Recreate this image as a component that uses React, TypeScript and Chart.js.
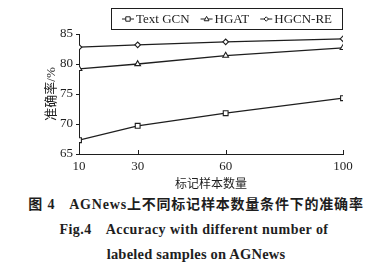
import React, { useEffect, useRef } from 'react';
import { Chart, registerables } from 'chart.js';

Chart.register(...registerables);

const sampleCounts = [10, 30, 60, 100];
const textGcn = [67.3, 69.7, 71.8, 74.3];
const hgat = [79.2, 80.0, 81.4, 82.7];
const hgcnRe = [82.8, 83.2, 83.7, 84.2];
const seriesNames = ['Text GCN', 'HGAT', 'HGCN-RE'];
const yTickValues = [65, 70, 75, 80, 85];
const yTitle = '准确率/%';
const xTitle = '标记样本数量';
const captionCn = ['图 4', 'AGNews上不同标记样本数量条件下的准确率'];
const captionEn1 = ['Fig.4', 'Accuracy with different number of'];
const captionEn2 = 'labeled samples on AGNews';

const SERIF = '"Liberation Serif", "Times New Roman", "Noto Sans CJK SC", serif';
const INK = '#1e1e1e';

function drawMarker(ctx: CanvasRenderingContext2D, style: string, x: number, y: number, r: number) {
  ctx.beginPath();
  if (style === 'rect') {
    ctx.rect(x - r, y - r, 2 * r, 2 * r);
  } else if (style === 'triangle') {
    ctx.moveTo(x, y - r * 1.2);
    ctx.lineTo(x + r * 1.1, y + r * 0.8);
    ctx.lineTo(x - r * 1.1, y + r * 0.8);
    ctx.closePath();
  } else {
    ctx.moveTo(x, y - r);
    ctx.lineTo(x + r, y);
    ctx.lineTo(x, y + r);
    ctx.lineTo(x - r, y);
    ctx.closePath();
  }
  ctx.fillStyle = '#fff';
  ctx.fill();
  ctx.stroke();
}

const extrasPlugin = {
  id: 'extras',
  afterDraw(chart: any) {
    const ctx: CanvasRenderingContext2D = chart.ctx;
    const area = chart.chartArea;
    const xs = chart.scales.x;
    ctx.save();
    // inward x ticks
    ctx.strokeStyle = INK;
    ctx.lineWidth = 1;
    for (const v of sampleCounts) {
      const px = Math.round(xs.getPixelForValue(v)) + 0.5;
      ctx.beginPath();
      ctx.moveTo(px, area.bottom);
      ctx.lineTo(px, area.bottom - 4);
      ctx.stroke();
    }
    // legend
    ctx.font = '13px ' + SERIF;
    const symW = 12;
    const symGap = 2;
    const itemGap = 11;
    const items = chart.data.datasets.map((d: any) => ({
      label: d.label,
      style: d.pointStyle,
      w: symW + symGap + ctx.measureText(d.label).width,
    }));
    const total = items.reduce((s: number, it: any) => s + it.w, 0) + itemGap * (items.length - 1);
    const boxRight = area.right;
    const boxLeft = area.left + 32;
    const boxTop = 8;
    const boxBottom = 29;
    ctx.lineWidth = 1;
    ctx.strokeRect(boxLeft + 0.5, boxTop + 0.5, boxRight - boxLeft - 1, boxBottom - boxTop);
    let x = boxLeft + (boxRight - boxLeft - total) / 2;
    const cy = (boxTop + boxBottom) / 2 + 0.5;
    ctx.textBaseline = 'middle';
    ctx.fillStyle = INK;
    for (const it of items) {
      ctx.beginPath();
      ctx.moveTo(x, cy);
      ctx.lineTo(x + symW, cy);
      ctx.stroke();
      drawMarker(ctx, it.style, x + symW / 2, cy, 2.2);
      ctx.fillStyle = INK;
      ctx.fillText(it.label, x + symW + symGap, cy + 0.5);
      x += it.w + itemGap;
    }
    ctx.restore();
  },
};

export default function App() {
  const ref = useRef<HTMLCanvasElement | null>(null);

  useEffect(() => {
    document.body.style.margin = '0';
    const canvas = ref.current;
    if (!canvas) return;
    const mk = (label: string, vals: number[], style: string, r: number) => ({
      label,
      data: sampleCounts.map((c, i) => ({ x: c, y: vals[i] })),
      borderColor: INK,
      backgroundColor: '#fff',
      borderWidth: 1.3,
      pointStyle: style,
      pointRadius: r,
      pointBorderWidth: 1.1,
      pointBorderColor: INK,
      pointBackgroundColor: '#fff',
      tension: 0,
    });
    const chart = new Chart(canvas, {
      type: 'line',
      data: {
        datasets: [
          mk(seriesNames[0], textGcn, 'rect', 3.4),
          mk(seriesNames[1], hgat, 'triangle', 3.3),
          mk(seriesNames[2], hgcnRe, 'rectRot', 2.8),
        ],
      },
      options: {
        animation: false,
        responsive: false,
        devicePixelRatio: 1,
        layout: { padding: { top: 34, left: 40, right: 49, bottom: 0 } },
        plugins: { legend: { display: false }, tooltip: { enabled: false } },
        scales: {
          x: {
            type: 'linear',
            min: 10,
            max: 100,
            afterBuildTicks: (s: any) => {
              s.ticks = sampleCounts.map((v) => ({ value: v }));
            },
            afterFit: (s: any) => {
              s.height = 38;
            },
            grid: { display: false, drawTicks: false },
            border: { display: true, color: INK, width: 1 },
            ticks: { color: INK, font: { family: SERIF, size: 13 }, padding: 5, maxRotation: 0 },
            title: {
              display: true,
              text: xTitle,
              color: INK,
              font: { family: SERIF, size: 12 },
              padding: { top: 0, bottom: 0 },
            },
          },
          y: {
            type: 'linear',
            min: 65,
            max: 85,
            afterBuildTicks: (s: any) => {
              s.ticks = yTickValues.map((v) => ({ value: v }));
            },
            afterFit: (s: any) => {
              s.width = 39;
            },
            grid: { display: true, drawOnChartArea: false, drawTicks: true, tickLength: 3, color: INK },
            border: { display: true, color: INK, width: 1 },
            ticks: { color: INK, font: { family: SERIF, size: 13 }, padding: 3 },
            title: {
              display: true,
              text: yTitle,
              color: INK,
              font: { family: SERIF, size: 13 },
              padding: { top: 4, bottom: 0 },
            },
          },
        },
      },
      plugins: [extrasPlugin],
    } as any);
    return () => chart.destroy();
  }, []);

  const capStyle: React.CSSProperties = {
    position: 'absolute',
    left: 0,
    width: 392,
    textAlign: 'center',
    fontFamily: SERIF,
    fontWeight: 'bold',
    color: INK,
    whiteSpace: 'pre',
    lineHeight: '18px',
  };

  return (
    <div style={{ position: 'relative', width: 392, height: 271, background: '#fff', overflow: 'hidden' }}>
      <canvas ref={ref} width={392} height={192} style={{ display: 'block', width: 392, height: 192 }} />
      <div style={{ ...capStyle, top: 196, fontSize: 14, letterSpacing: '0.8px' }}>
        <span>{captionCn[0]}</span>
        <span style={{ display: 'inline-block', width: 14 }} />
        <span>{captionCn[1]}</span>
      </div>
      <div style={{ ...capStyle, top: 221, fontSize: 14, left: -2, letterSpacing: '0.45px' }}>
        <span>{captionEn1[0]}</span>
        <span style={{ display: 'inline-block', width: 14 }} />
        <span>{captionEn1[1]}</span>
      </div>
      <div style={{ ...capStyle, top: 245, fontSize: 14.5, letterSpacing: '0.2px' }}>{captionEn2}</div>
    </div>
  );
}
